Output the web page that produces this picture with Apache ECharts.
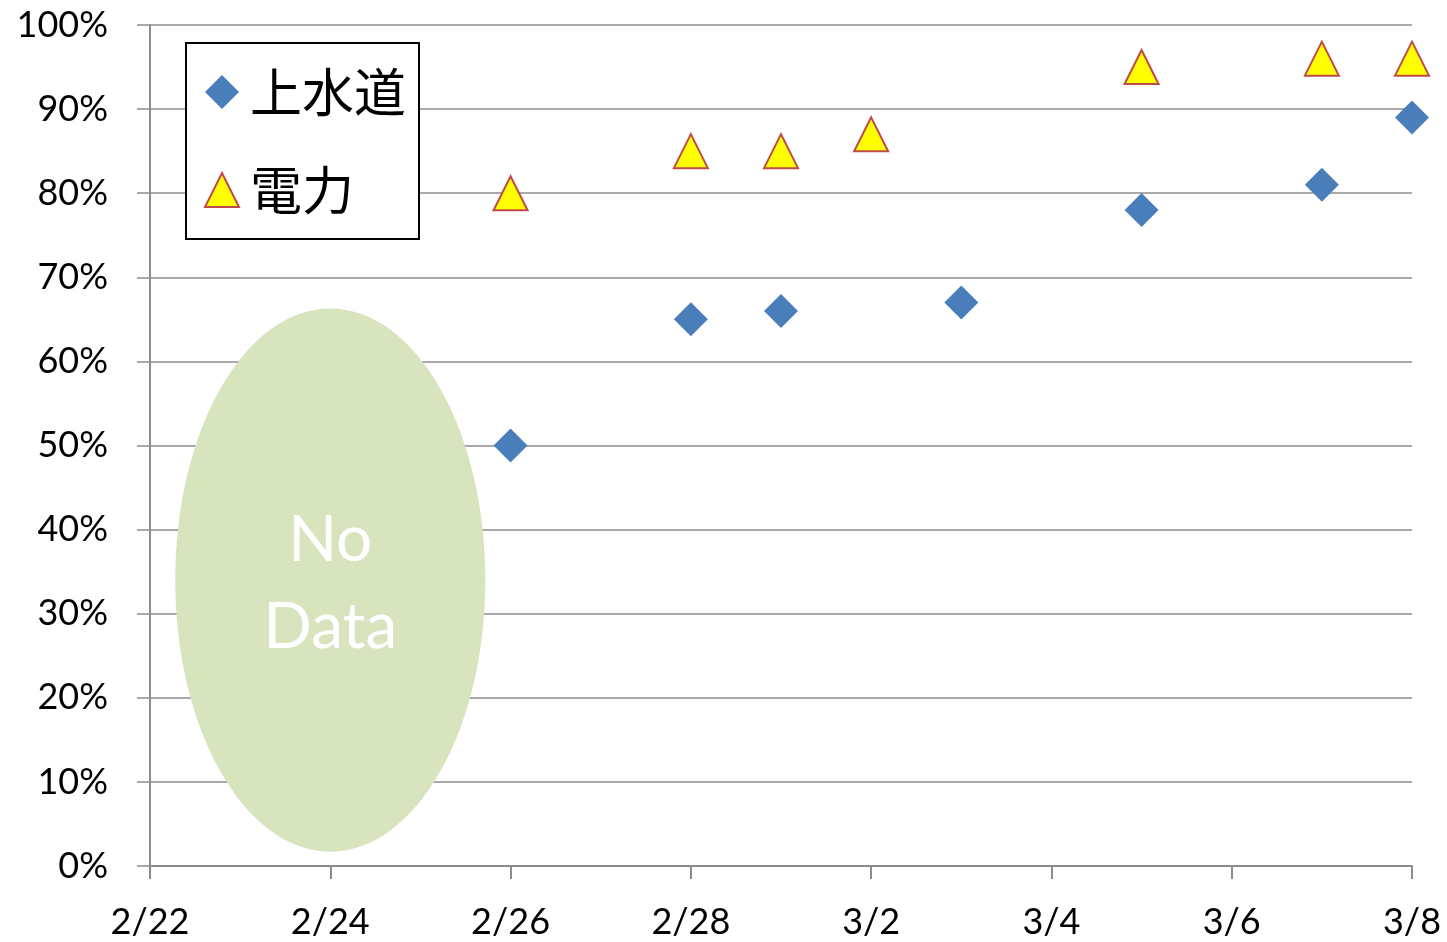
<!DOCTYPE html>
<html>
<head>
<meta charset="utf-8">
<script src="https://cdn.jsdelivr.net/npm/echarts@6/dist/echarts.min.js"></script>
<style>
  html, body { margin: 0; padding: 0; background: #fff; }
  #chart { width: 1447px; height: 942px; }
</style>
</head>
<body>
<div id="chart"></div>
<script>
const seriesNames = ['上水道', '電力'];

const waterDates = ['2/26', '2/28', '3/1', '3/3', '3/5', '3/7', '3/8'];
const waterValues = [50, 65, 66, 67, 78, 81, 89];

const powerDates = ['2/26', '2/28', '3/1', '3/2', '3/5', '3/7', '3/8'];
const powerValues = [80, 85, 85, 87, 95, 96, 96];

const startDate = '2/22';
const endDate = '3/8';
const noDataLabel = 'No\nData';
const noDataCenter = ['2/24', 34];

const YEAR = 2011;
const DAY = 86400000;

function toDay(s) {
    const [m, d] = s.split('/').map(Number);
    return (Date.UTC(YEAR, m - 1, d) - Date.UTC(YEAR, 1, 22)) / DAY;
}
function fromDay(n) {
    const dt = new Date(Date.UTC(YEAR, 1, 22) + n * DAY);
    return (dt.getUTCMonth() + 1) + '/' + dt.getUTCDate();
}

const chart = echarts.init(document.getElementById('chart'));
const gray = '#8c8c8c';
const font = 'Lato, "Noto Sans", sans-serif';

chart.setOption({
    animation: false,
    grid: { left: 150, right: 35, top: 25, bottom: 76 },
    legend: {
        left: 186, top: 43,
        orient: 'vertical',
        padding: [23, 13, 23, 18],
        itemGap: 46,
        itemWidth: 34, itemHeight: 34,
        backgroundColor: '#fff',
        borderColor: '#000',
        borderWidth: 2,
        borderRadius: 0,
        data: seriesNames,
        textStyle: {
            fontFamily: '"Noto Sans CJK JP", sans-serif',
            fontSize: 52,
            color: '#000',
            padding: [0, 0, 0, 6]
        }
    },
    xAxis: {
        type: 'value',
        min: toDay(startDate),
        max: toDay(endDate),
        interval: 2,
        axisLine: { show: true, onZero: false, lineStyle: { color: gray, width: 2 } },
        axisTick: { show: true, length: 13, lineStyle: { color: gray, width: 2 } },
        splitLine: { show: false },
        axisLabel: {
            margin: 38,
            fontFamily: font,
            fontSize: 36,
            color: '#000',
            formatter: v => fromDay(v)
        }
    },
    yAxis: {
        type: 'value',
        min: 0, max: 100, interval: 10,
        axisLine: { show: true, lineStyle: { color: gray, width: 2 } },
        axisTick: { show: true, length: 13, lineStyle: { color: gray, width: 1.5 } },
        splitLine: { show: true, lineStyle: { color: gray, width: 1.5 } },
        axisLabel: {
            margin: 42,
            fontFamily: font,
            fontSize: 36,
            color: '#000',
            formatter: '{value}%'
        }
    },
    series: [
        {
            type: 'custom',
            silent: true,
            z: 1,
            data: [[toDay(noDataCenter[0]), noDataCenter[1]]],
            renderItem: (params, api) => {
                const c = api.coord([api.value(0), api.value(1)]);
                const e = api.coord([api.value(0) + 1.72, api.value(1) + 32.3]);
                return {
                    type: 'group',
                    children: [
                        {
                            type: 'ellipse',
                            shape: { cx: c[0], cy: c[1], rx: e[0] - c[0], ry: c[1] - e[1] },
                            style: { fill: '#d7e4bd' }
                        },
                        {
                            type: 'text',
                            x: c[0], y: c[1] + 4,
                            style: {
                                text: noDataLabel,
                                fill: '#fff',
                                font: '64px ' + font,
                                lineHeight: 87,
                                align: 'center',
                                verticalAlign: 'middle'
                            }
                        }
                    ]
                };
            }
        },
        {
            name: seriesNames[0],
            type: 'scatter',
            z: 3,
            symbol: 'diamond',
            symbolSize: 34,
            itemStyle: { color: '#4a7ebb', opacity: 1 },
            data: waterDates.map((d, i) => [toDay(d), waterValues[i]])
        },
        {
            name: seriesNames[1],
            type: 'scatter',
            z: 3,
            symbol: 'triangle',
            symbolSize: 34,
            itemStyle: { color: '#ffff00', borderColor: '#be4b48', borderWidth: 2, opacity: 1 },
            data: powerDates.map((d, i) => [toDay(d), powerValues[i]])
        }
    ]
});
</script>
</body>
</html>
